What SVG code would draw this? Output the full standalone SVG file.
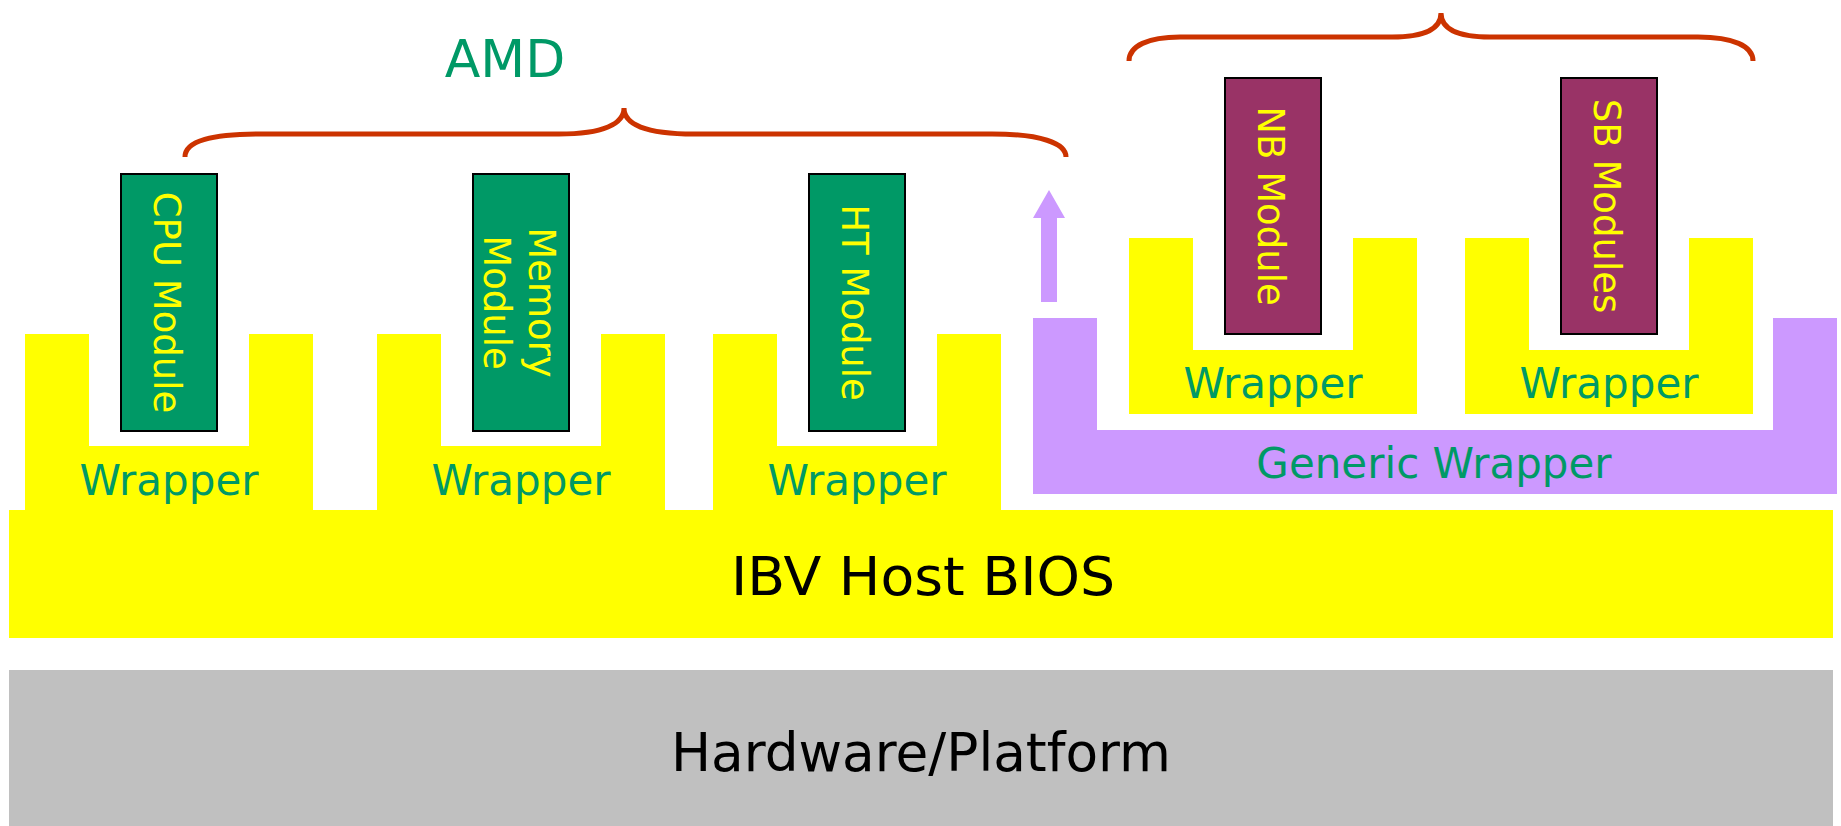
<svg xmlns="http://www.w3.org/2000/svg" width="1841" height="826" viewBox="0 0 1841 826">
  <style>
    .yel { fill: #FFFF00; }
    .lav { fill: #CC99FF; }
    .gray { fill: #C0C0C0; }
    .amdmod { fill: #009966; stroke: #000000; stroke-width: 2; }
    .chipmod { fill: #993366; stroke: #000000; stroke-width: 2; }
    .modtxt { font-family: "DejaVu Sans", Verdana, sans-serif; font-size: 37px; fill: #FFFF00; text-anchor: middle; }
    .wraptxt { font-family: "DejaVu Sans", Verdana, sans-serif; font-size: 42px; fill: #009966; text-anchor: middle; }
    .bigtxt { font-family: "DejaVu Sans", Verdana, sans-serif; font-size: 53px; fill: #000000; text-anchor: middle; }
    .brace { fill: none; stroke: #CC3300; stroke-width: 5; }
  </style>
  <rect width="1841" height="826" fill="#FFFFFF"/>

  <g id="hardware">
    <rect class="gray" x="9" y="670" width="1824" height="156"/>
    <text class="bigtxt" x="921" y="771" textLength="500" lengthAdjust="spacingAndGlyphs">Hardware/Platform</text>
  </g>

  <g id="host-bios">
    <rect class="yel" x="9" y="510" width="1824" height="128"/>
    <text class="bigtxt" x="923" y="595" textLength="384" lengthAdjust="spacingAndGlyphs">IBV Host BIOS</text>
  </g>

  <g id="wrapper-cpu">
    <path class="yel" d="M25,334 H89 V446 H249 V334 H313 V512 H25 Z"/>
    <text class="wraptxt" x="169" y="495">Wrapper</text>
  </g>
  <g id="wrapper-memory">
    <path class="yel" d="M377,334 H441 V446 H601 V334 H665 V512 H377 Z"/>
    <text class="wraptxt" x="521" y="495">Wrapper</text>
  </g>
  <g id="wrapper-ht">
    <path class="yel" d="M713,334 H777 V446 H937 V334 H1001 V512 H713 Z"/>
    <text class="wraptxt" x="857" y="495">Wrapper</text>
  </g>

  <g id="generic-wrapper">
    <path class="lav" d="M1033,318 H1097 V430 H1773 V318 H1837 V494 H1033 Z"/>
    <text class="wraptxt" x="1434" y="478">Generic Wrapper</text>
  </g>
  <g id="wrapper-nb">
    <path class="yel" d="M1129,238 H1193 V350 H1353 V238 H1417 V414 H1129 Z"/>
    <text class="wraptxt" x="1273" y="398">Wrapper</text>
  </g>
  <g id="wrapper-sb">
    <path class="yel" d="M1465,238 H1529 V350 H1689 V238 H1753 V414 H1465 Z"/>
    <text class="wraptxt" x="1609" y="398">Wrapper</text>
  </g>

  <g id="cpu-module">
    <rect class="amdmod" x="121" y="174" width="96" height="257"/>
    <text class="modtxt" transform="translate(169,302.5) rotate(90)" x="0" y="15">CPU Module</text>
  </g>
  <g id="memory-module">
    <rect class="amdmod" x="473" y="174" width="96" height="257"/>
    <text class="modtxt" transform="translate(521,302.5) rotate(90)"><tspan x="0" y="-8">Memory</tspan><tspan x="0" y="37">Module</tspan></text>
  </g>
  <g id="ht-module">
    <rect class="amdmod" x="809" y="174" width="96" height="257"/>
    <text class="modtxt" transform="translate(857,302.5) rotate(90)" x="0" y="15">HT Module</text>
  </g>
  <g id="nb-module">
    <rect class="chipmod" x="1225" y="78" width="96" height="256"/>
    <text class="modtxt" transform="translate(1273,206) rotate(90)" x="0" y="15">NB Module</text>
  </g>
  <g id="sb-module">
    <rect class="chipmod" x="1561" y="78" width="96" height="256"/>
    <text class="modtxt" transform="translate(1609,206) rotate(90)" x="0" y="15">SB Modules</text>
  </g>

  <g id="amd-label">
    <text x="505" y="77" font-family="DejaVu Sans, Verdana, sans-serif" font-size="52" fill="#009966" text-anchor="middle">AMD</text>
  </g>

  <g id="connectors">
    <path class="brace" d="M185,157 C185,141 212,134 262,134 L559,134 C603,134 624,124 624,108 C624,124 645,134 694,134 L992,134 C1040,134 1066,143 1066,157"/>
    <path class="brace" d="M1129,61 C1129,46 1148,37 1180,37 L1392,37 C1424,37 1441,29 1441,13 C1441,29 1458,37 1490,37 L1698,37 C1733,37 1753,46 1753,61"/>
    <path class="lav" d="M1041,302 V218 H1033 L1049,190 L1065,218 H1057 V302 Z"/>
  </g>
</svg>
